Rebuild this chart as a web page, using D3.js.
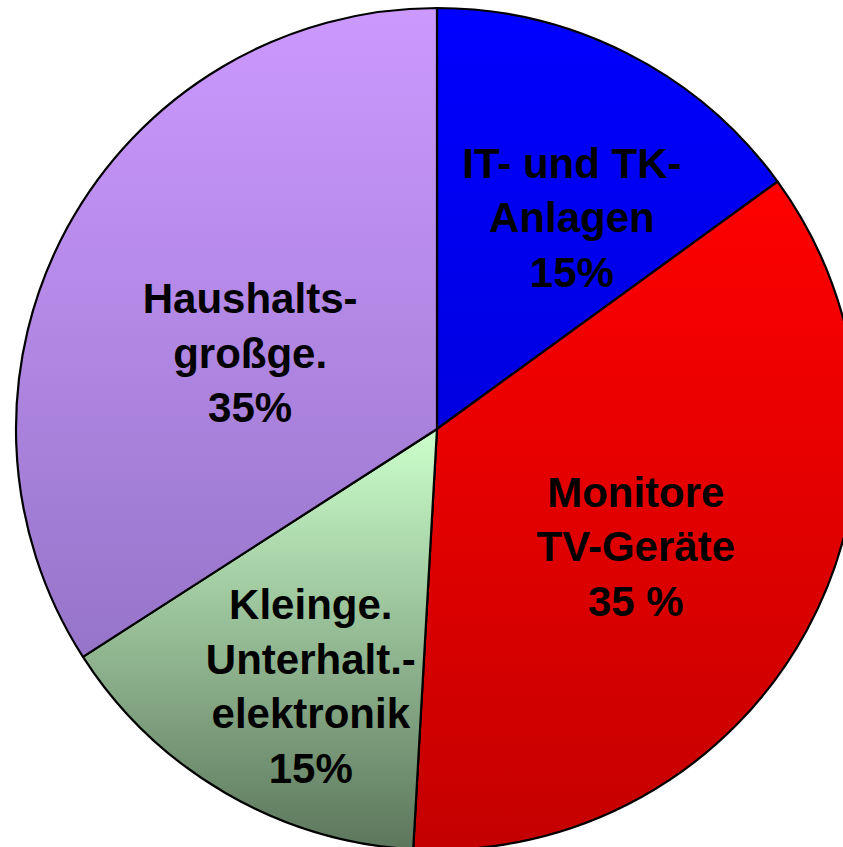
<!DOCTYPE html>
<html>
<head>
<meta charset="utf-8">
<script src="https://cdn.jsdelivr.net/npm/d3@7"></script>
<style>
  html, body { margin: 0; padding: 0; background: #ffffff; }
  svg { display: block; }
</style>
</head>
<body>
<div id="chart"></div>
<script>
// ---- data ----
const categories = ["IT- und TK-Anlagen", "Monitore TV-Geräte", "Kleinge. Unterhalt.-elektronik", "Haushaltsgroßge."];
const values = [15, 35.9, 15, 34.1];
const labelLines = [
  ["IT- und TK-", "Anlagen", "15%"],
  ["Monitore", "TV-Geräte", "35 %"],
  ["Kleinge.", "Unterhalt.-", "elektronik", "15%"],
  ["Haushalts-", "großge.", "35%"]
];
const gradTop = ["#0000ff", "#ff0000", "#ccffcc", "#cc99ff"];
const gradBottom = ["#0000e0", "#c40000", "#5c765c", "#9675c9"];
// label placement (angle in degrees clockwise from top, distance as fraction of radius)
const labelAngle = [34.4, 123.6, 204.9, 288.1];
const labelDist = [0.567, 0.567, 0.712, 0.467];

// ---- layout ----
const W = 843, H = 847;
const cx = 437, cy = 429, R = 421;
const fontSize = 42, lineH = 54.5;

const svg = d3.select("#chart").append("svg")
  .attr("width", W).attr("height", H);

const defs = svg.append("defs");
categories.forEach((c, i) => {
  const g = defs.append("linearGradient")
    .attr("id", "grad" + i)
    .attr("x1", 0).attr("y1", 0).attr("x2", 0).attr("y2", 1);
  g.append("stop").attr("offset", "0%").attr("stop-color", gradTop[i]);
  g.append("stop").attr("offset", "100%").attr("stop-color", gradBottom[i]);
});

const pie = d3.pie().sort(null).value(d => d)(values);
const arc = d3.arc().innerRadius(0).outerRadius(R);

const g = svg.append("g").attr("transform", `translate(${cx},${cy})`);

g.selectAll("path.slice")
  .data(pie)
  .join("path")
  .attr("class", "slice")
  .attr("d", arc)
  .attr("fill", (d, i) => `url(#grad${i})`)
  .attr("stroke", "#000")
  .attr("stroke-width", 2.2)
  .attr("stroke-linejoin", "round");

const labels = g.selectAll("text.lbl")
  .data(pie)
  .join("text")
  .attr("class", "lbl")
  .attr("text-anchor", "middle")
  .attr("font-family", "'Liberation Sans', Arial, sans-serif")
  .attr("font-weight", "bold")
  .attr("font-size", fontSize)
  .attr("fill", "#000")
  .each(function(d, i) {
    const a = labelAngle[i] * Math.PI / 180;
    const dist = labelDist[i] * R;
    const x = dist * Math.sin(a);
    const yMid = -dist * Math.cos(a);
    const lines = labelLines[i];
    const n = lines.length;
    const y0 = yMid - (n - 1) / 2 * lineH;
    const t = d3.select(this);
    lines.forEach((ln, k) => {
      t.append("tspan").attr("x", x).attr("y", y0 + k * lineH).text(ln);
    });
  });
</script>
</body>
</html>
